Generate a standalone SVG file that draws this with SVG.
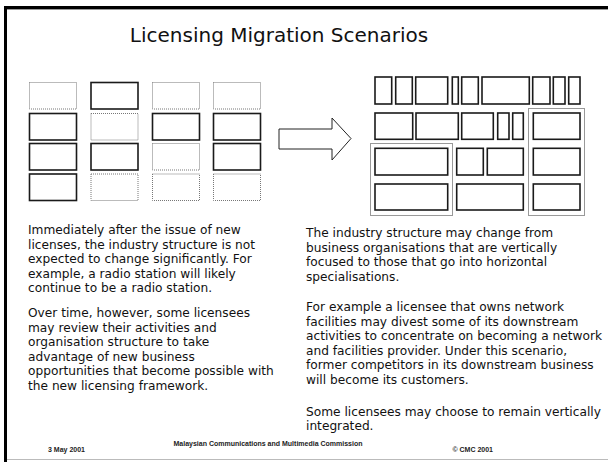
<svg xmlns="http://www.w3.org/2000/svg" width="608" height="462" viewBox="0 0 608 462">
<style>
.solid{fill:#fff;stroke:#1a1a1a;stroke-width:1.6}
.dot{fill:#fff;stroke:#777;stroke-width:1;stroke-dasharray:1 1}
.grp{fill:none;stroke:#333;stroke-width:1;stroke-dasharray:1 1}
.body{font-family:"DejaVu Sans",Verdana,sans-serif;font-size:12.2px;fill:#111}
.title{font-family:"DejaVu Sans",Verdana,sans-serif;font-size:20px;fill:#111}
.foot{font-family:"Liberation Sans",Arial,sans-serif;font-size:7px;font-weight:bold;fill:#222}
</style>
<rect x="0" y="0" width="608" height="462" fill="#fff"/>
<g id="frame">
<line x1="7" y1="459.5" x2="608" y2="459.5" stroke="#bbb" stroke-width="1"/>
<line x1="4" y1="7.5" x2="608" y2="7.5" stroke="#000" stroke-width="3"/>
<line x1="4" y1="9.5" x2="608" y2="9.5" stroke="#999" stroke-width="1"/>
<line x1="5.5" y1="6" x2="5.5" y2="462" stroke="#000" stroke-width="3"/>
</g>
<g id="title"><text class="title" x="279" y="41.5" text-anchor="middle">Licensing Migration Scenarios</text></g>
<g id="before">
<rect class="dot" x="29.5" y="82.5" width="47" height="26.5"/>
<rect class="solid" x="91" y="82.5" width="47" height="26.5"/>
<rect class="dot" x="152.5" y="82.5" width="47" height="26.5"/>
<rect class="dot" x="213.5" y="82.5" width="47" height="26.5"/>
<rect class="solid" x="29.5" y="113.5" width="47" height="26.5"/>
<rect class="dot" x="91" y="113.5" width="47" height="26.5"/>
<rect class="solid" x="152.5" y="113.5" width="47" height="26.5"/>
<rect class="solid" x="213.5" y="113.5" width="47" height="26.5"/>
<rect class="solid" x="29.5" y="143.5" width="47" height="26.5"/>
<rect class="solid" x="91" y="143.5" width="47" height="26.5"/>
<rect class="dot" x="152.5" y="143.5" width="47" height="26.5"/>
<rect class="solid" x="213.5" y="143.5" width="47" height="26.5"/>
<rect class="solid" x="29.5" y="174" width="47" height="26.5"/>
<rect class="dot" x="91" y="174" width="47" height="26.5"/>
<rect class="dot" x="152.5" y="174" width="47" height="26.5"/>
<rect class="dot" x="213.5" y="174" width="47" height="26.5"/>
</g>
<g id="connectors">
<polygon points="279,129 332,129 332,118 351,138.5 332,160 332,149 279,149" fill="#fff" stroke="#222" stroke-width="1"/>
</g>
<g id="after">
<rect class="grp" x="370.5" y="143.5" width="82" height="72"/>
<rect class="grp" x="528.5" y="108.5" width="56" height="107"/>
<rect class="solid" x="375" y="77" width="16.7" height="27"/>
<rect class="solid" x="395.7" y="77" width="16.6" height="27"/>
<rect class="solid" x="415.7" y="77" width="32" height="27"/>
<rect class="solid" x="452.3" y="77" width="6" height="27"/>
<rect class="solid" x="461.7" y="77" width="16.6" height="27"/>
<rect class="solid" x="482" y="77" width="47.3" height="27"/>
<rect class="solid" x="532.7" y="77" width="17.3" height="27"/>
<rect class="solid" x="553.3" y="77" width="11.7" height="27"/>
<rect class="solid" x="568.7" y="77" width="11.3" height="27"/>
<rect class="solid" x="375" y="113" width="37.7" height="26.3"/>
<rect class="solid" x="416" y="113" width="42.3" height="26.3"/>
<rect class="solid" x="461.7" y="113" width="31.6" height="26.3"/>
<rect class="solid" x="497.7" y="113" width="11.3" height="26.3"/>
<rect class="solid" x="512.7" y="113" width="10.6" height="26.3"/>
<rect class="solid" x="533.3" y="113" width="46.7" height="26.3"/>
<rect class="solid" x="375" y="148.3" width="72.7" height="26.7"/>
<rect class="solid" x="456.7" y="148.3" width="26.6" height="26.7"/>
<rect class="solid" x="487.3" y="148.3" width="36" height="26.7"/>
<rect class="solid" x="533.3" y="148.3" width="46.7" height="26.7"/>
<rect class="solid" x="375" y="184" width="72.7" height="26"/>
<rect class="solid" x="456.7" y="184" width="66.6" height="26"/>
<rect class="solid" x="533.3" y="184" width="46.7" height="26"/>
</g>
<g id="left-text" class="body">
<text x="28" y="234">Immediately after the issue of new</text>
<text x="28" y="248.6">licenses, the industry structure is not</text>
<text x="28" y="263.2">expected to change significantly. For</text>
<text x="28" y="277.8">example, a radio station will likely</text>
<text x="28" y="292.4">continue to be a radio station.</text>
<text x="28" y="317">Over time, however, some licensees</text>
<text x="28" y="331.6">may review their activities and</text>
<text x="28" y="346.2">organisation structure to take</text>
<text x="28" y="360.8">advantage of new business</text>
<text x="28" y="375.4">opportunities that become possible with</text>
<text x="28" y="390">the new licensing framework.</text>
</g>
<g id="right-text" class="body">
<text x="306" y="237">The industry structure may change from</text>
<text x="306" y="251.6">business organisations that are vertically</text>
<text x="306" y="266.2">focused to those that go into horizontal</text>
<text x="306" y="280.8">specialisations.</text>
<text x="306" y="311">For example a licensee that owns network</text>
<text x="306" y="325.6">facilities may divest some of its downstream</text>
<text x="306" y="340.2">activities to concentrate on becoming a network</text>
<text x="306" y="354.8">and facilities provider. Under this scenario,</text>
<text x="306" y="369.4">former competitors in its downstream business</text>
<text x="306" y="384">will become its customers.</text>
<text x="306" y="415.5">Some licensees may choose to remain vertically</text>
<text x="306" y="430.1">integrated.</text>
</g>
<g id="footer" class="foot">
<text x="48" y="452">3 May 2001</text>
<text x="268" y="446" text-anchor="middle">Malaysian Communications and Multimedia Commission</text>
<text x="493" y="452" text-anchor="end">© CMC 2001</text>
</g>
</svg>
